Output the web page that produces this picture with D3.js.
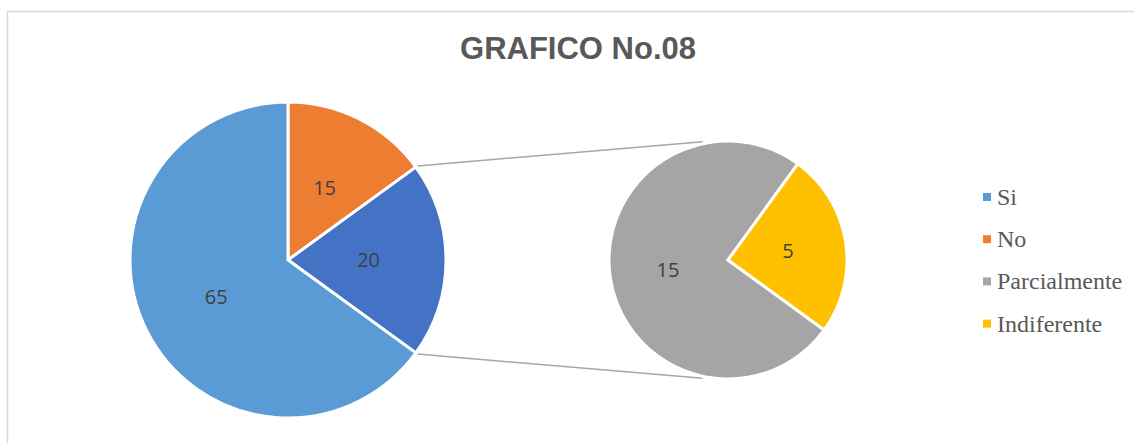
<!DOCTYPE html>
<html>
<head>
<meta charset="utf-8">
<script src="https://cdn.jsdelivr.net/npm/d3@7"></script>
<style>
  body { margin: 0; background: #fff; }
  #chart { width: 1134px; height: 443px; }
</style>
</head>
<body>
<div id="chart"></div>
<script>
// data
const categories = ['Si', 'No', 'Parcialmente', 'Indiferente'];
const values = [65, 15, 15, 5];
const colors = ['#5B9BD5', '#ED7D31', '#A5A5A5', '#FFC000'];
const otherColor = '#4472C4';
const splitCount = 2; // last 2 go to the second pie

const width = 1134, height = 443;
const svg = d3.select('#chart').append('svg')
    .attr('width', width).attr('height', height);

// chart border
svg.append('rect')
    .attr('x', 7.5).attr('y', 11.5)
    .attr('width', width + 10).attr('height', height + 10)
    .attr('fill', 'none').attr('stroke', '#d9d9d9').attr('stroke-width', 1.5);

svg.append('text')
    .attr('x', 578).attr('y', 59)
    .attr('text-anchor', 'middle')
    .attr('font-family', 'Liberation Sans, Arial, sans-serif')
    .attr('font-weight', 'bold').attr('font-size', 31)
    .attr('fill', '#595959')
    .text('GRAFICO No.08');

// main pie: Si, No, Other(sum of the rest)
const mainCount = categories.length - splitCount;
const mainData = categories.slice(0, mainCount).map((c, i) => ({ name: c, value: values[i], color: colors[i] }));
const otherVal = d3.sum(values.slice(mainCount));
mainData.push({ name: 'Otro', value: otherVal, color: otherColor });
// Excel order: No first from 12 o'clock, then Other, then Si
const mainOrder = [mainData[1], mainData[2], mainData[0]];

const subData = categories.slice(mainCount).map((c, i) => ({ name: c, value: values[mainCount + i], color: colors[mainCount + i] }));

const mainC = [288, 260], mainR = 158;
const subC = [728, 260], subR = 119;

const mainPie = d3.pie().sort(null).value(d => d.value);
const mainArcs = mainPie(mainOrder);

const subStart = mainArcs[1].endAngle; // second pie rotated to line up with the split
const subPie = d3.pie().sort(null).value(d => d.value)
    .startAngle(subStart).endAngle(subStart + 2 * Math.PI);
const subArcs = subPie(subData);

const arcMain = d3.arc().innerRadius(0).outerRadius(mainR);
const arcSub = d3.arc().innerRadius(0).outerRadius(subR);

// connector lines
const pt = (c, r, a) => [c[0] + r * Math.sin(a), c[1] - r * Math.cos(a)];
const other = mainArcs[1];
const tilt = 12 * Math.PI / 180;
const lines = [
  [pt(mainC, mainR + 2, other.startAngle), pt(subC, subR + 2, -tilt)],
  [pt(mainC, mainR + 2, other.endAngle), pt(subC, subR + 2, Math.PI + tilt)]
];
svg.append('g').selectAll('line').data(lines).join('line')
    .attr('x1', d => d[0][0]).attr('y1', d => d[0][1])
    .attr('x2', d => d[1][0]).attr('y2', d => d[1][1])
    .attr('stroke', '#a6a6a6').attr('stroke-width', 1.5);

const labelFont = 'Open Sans, Liberation Sans, sans-serif';

function drawPie(arcs, center, arcGen, r) {
  const g = svg.append('g').attr('transform', `translate(${center})`);
  g.selectAll('path').data(arcs).join('path')
      .attr('d', arcGen)
      .attr('fill', d => d.data.color)
      .attr('stroke', '#fff').attr('stroke-width', 3)
      .attr('stroke-linejoin', 'round');
  g.selectAll('text').data(arcs).join('text')
      .attr('transform', d => {
        const a = (d.startAngle + d.endAngle) / 2;
        const lr = r * 0.51;
        return `translate(${lr * Math.sin(a)},${-lr * Math.cos(a)})`;
      })
      .attr('text-anchor', 'middle').attr('dy', '0.36em')
      .attr('font-family', labelFont).attr('font-size', 20)
      .attr('fill', '#404040')
      .text(d => d.data.value);
}
drawPie(mainArcs, mainC, arcMain, mainR);
drawPie(subArcs, subC, arcSub, subR);

// legend
const legend = svg.append('g').attr('transform', 'translate(983,197)');
const item = legend.selectAll('g').data(categories).join('g')
    .attr('transform', (d, i) => `translate(0,${i * 42.2})`);
item.append('rect').attr('x', 0).attr('y', -4).attr('width', 8).attr('height', 8)
    .attr('fill', (d, i) => colors[i]);
item.append('text').attr('x', 14).attr('dy', '0.33em')
    .attr('font-family', 'Liberation Serif, Times New Roman, serif')
    .attr('font-size', 24).attr('fill', '#595959')
    .text(d => d);
</script>
</body>
</html>
